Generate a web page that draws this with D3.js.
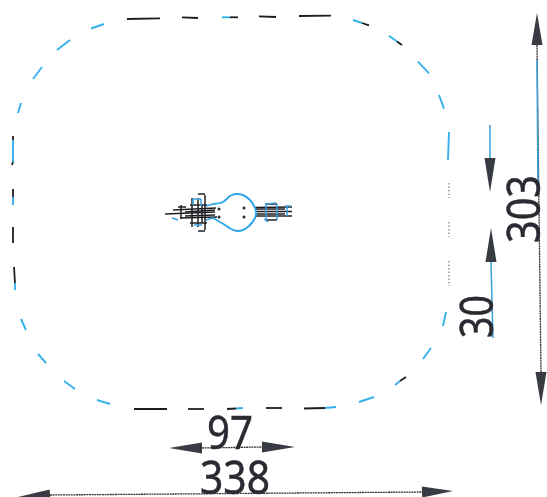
<!DOCTYPE html>
<html>
<head>
<meta charset="utf-8">
<script src="https://cdn.jsdelivr.net/npm/d3@7"></script>
<style>
  html, body { margin: 0; padding: 0; background: #fff; overflow: hidden; }
</style>
</head>
<body>
<div id="chart"></div>
<script>
// everything: [x1, y1, x2, y2]
const outlineBlue = [
    [222,17.3,230,17.3],[353,20,362,23],[389,35.7,397,41.5],[418,61.7,429,73.3],[439,95,444,108.7],
    [449,132,448,160],[446,312,443,326],[431,348,423,359],[400,381,395,385],[374,397,359,402],
    [336,407,325,408],[243,408,236,408.5],[110,404,97,400],[75,389,64,381],[46,363,38,354],
    [26,330,21,319],[15,283,15,290],[13,197,13,205],[13,140,13,162],[18,113,21,103],
    [33,79,42,67],[57,50,70,40],[91,28.5,104,24]
];
const outlineDark = [
    [127,19,160,18.3],[182,17.3,198,18],[230,17.3,238,17.3],[259,16.3,276,17],[299,16,331,15.7],
    [362,23,369,25.3],[397,41.5,402,45],[406,377,400,381],[325,408,304,408.5],[282,408,266,408],
    [236,408.5,227,409],[204,409,188,409],[167,409,134,409],[14,267,15,283],[13,227,13,243],
    [13,189,13,197],[13,136,13,140],[13,162,12,165]
];
const outlineFaint = [
    [449,183,449,198],[449,222,449,237],[449,261,449,286]
];

// centre fitting
const bulbPoints = [[213,204],[223,202],[230,196],[236,194],[243,195],[250,200],[255,208],[256,213],[255,218],[249,226],[243,230],[237,231],[231,229],[225,225],[213,218]];
const fittingDots = [[219,209],[219,217],[244,208],[244,217]];
const fittingDark = [
    [165,214,215,212],[173,210,216,208],[180,218,217,217],[185,212,215,210],[185,216,215,215],
    [255,207.5,292,207],[255,211.5,292,211.5],[255,216,292,216],[255,209,285,209],[255,214,285,214],
    [190,205,207,205],[190,223,207,223],[192,198,192,227],[205,195,205,230],[198,194,205,194],[198,231,205,231],
    [198,198,198,227],[202,205,202,223],[178,207,186,207],[266,204,277,204],[266,220,277,220],[181,205,181,219]
];
const fittingBlue = [
    [193,199,193,205],[193,199,201,199],[201,199,201,206],[194,225,202,225],[172,218,178,220],
    [206,206,213,204],[206,220,213,218],[266,204,266,220],[277,204,277,220],[265,204,276,203],
    [264,219,268,222],[285,206,291,206],[287,206,287,216]
];

// dimension arrows: tip and base of each head
const arrowHeads = [
    [169,448,202,448],[295,447,262,447],[18,497,50,495],[453,491,422,492],
    [537,13,537,45],[541,405,541,372],[490,192,490,158],[491,228,491,262]
];
const dimensionLinesDark = [
    [202,448,262,447],[50,495,422,492],[537,45,541,372]
];
const dimensionLinesBlue = [
    [490,125,490,158],[491,262,493,338],[537,60,538,190]
];
const dimensionLabels = ["97", "338", "303", "30"];
const labelCentres = [[230,449],[235,494],[540,209],[493,316.5]];
const labelLengths = [46, 70, 68, 43];
const labelAngles = [0, 0, -90, -90];

const width = 547;
const height = 497;

let x = d3.scaleLinear().domain([0, 547]).range([0, width]);
let y = d3.scaleLinear().domain([0, 497]).range([0, height]);

const svg = d3.select('#chart')
    .append('svg')
    .attr('width', width)
    .attr('height', height)
    .style('display', 'block');

// the reference is a soft scan
svg.append('defs').append('filter')
    .attr('id', 'scan')
    .append('feGaussianBlur')
    .attr('stdDeviation', 0.5);

const g = svg.append('g').attr('filter', 'url(#scan)');

function drawSegments(data, color, strokeWidth, dash) {
    g.append('g').selectAll('line')
        .data(data)
        .enter().append('line')
        .attr('x1', d => x(d[0]))
        .attr('y1', d => y(d[1]))
        .attr('x2', d => x(d[2]))
        .attr('y2', d => y(d[3]))
        .attr('stroke', color)
        .attr('stroke-width', strokeWidth)
        .attr('stroke-dasharray', dash || null);
}

drawSegments(outlineBlue, '#35b1ea', 1.9);
drawSegments(outlineDark, '#1f1f22', 1.8);
drawSegments(outlineFaint, '#7d8a93', 1.3, '1.5 2');

drawSegments(fittingDark, '#1f1f22', 1.5);
drawSegments(fittingBlue, '#3a9fe0', 1.5);

// bulb
const bulb = d3.line()
    .x(d => x(d[0]))
    .y(d => y(d[1]))
    .curve(d3.curveCatmullRom);

g.append('path')
    .attr('d', bulb(bulbPoints))
    .attr('fill', 'none')
    .attr('stroke', '#2fa6ea')
    .attr('stroke-width', 1.9);

g.append('g').selectAll('circle')
    .data(fittingDots)
    .enter().append('circle')
    .attr('cx', d => x(d[0]))
    .attr('cy', d => y(d[1]))
    .attr('r', 1.5)
    .attr('fill', '#2a2a2e');

// dimension lines
drawSegments(dimensionLinesDark, '#33343a', 1.3, '2 0.6');
drawSegments(dimensionLinesBlue, '#3a9fd8', 1.5);

// arrow heads, 5.5 either side of the shaft
g.append('g').selectAll('path')
    .data(arrowHeads)
    .enter().append('path')
    .attr('d', d => {
        const dx = x(d[2]) - x(d[0]);
        const dy = y(d[3]) - y(d[1]);
        const len = Math.hypot(dx, dy);
        const nx = -dy / len * 5.5;
        const ny = dx / len * 5.5;
        return d3.line()([
            [x(d[0]), y(d[1])],
            [x(d[2]) + nx, y(d[3]) + ny],
            [x(d[2]) - nx, y(d[3]) - ny]
        ]) + 'Z';
    })
    .attr('fill', '#383a42');

// labels, squeezed a little like the scanned digits
const labelFont = 46;
const labelWidthPerChar = labelFont * 0.572;

g.append('g').selectAll('text')
    .data(dimensionLabels)
    .enter().append('text')
    .attr('transform', (d, i) => 'translate(' + x(labelCentres[i][0]) + ',' + y(labelCentres[i][1]) + ') rotate(' + labelAngles[i] + ') scale(' + labelLengths[i] / (labelWidthPerChar * d.length) + ',1)')
    .attr('text-anchor', 'middle')
    .style('font-family', '"Noto Sans", sans-serif')
    .style('font-size', labelFont + 'px')
    .attr('fill', '#2b2b30')
    .attr('stroke', '#2b2b30')
    .attr('stroke-width', 0.5)
    .text(d => d);
</script>
</body>
</html>
